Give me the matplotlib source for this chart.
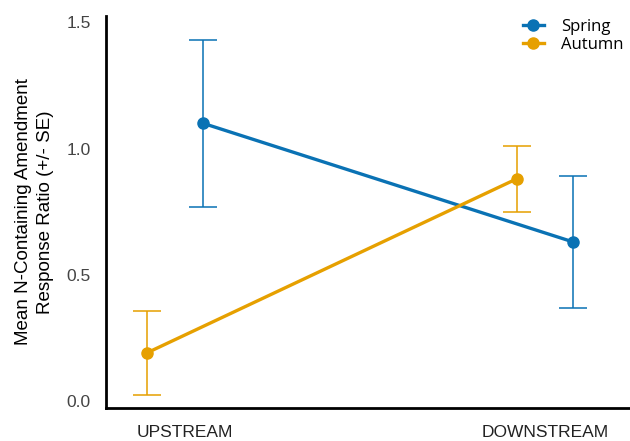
import matplotlib
matplotlib.use("Agg")
from matplotlib import pyplot as plt
from matplotlib import transforms
import numpy as np

# site categories and seasonal means (+/- SE)
sites = ['UPSTREAM', 'DOWNSTREAM']
spring_mean = [1.10, 0.63]
spring_se = [0.33, 0.26]
autumn_mean = [0.19, 0.88]
autumn_se = [0.165, 0.13]

blue = '#0a72b4'
orange = '#e6a000'

plt.rcParams['font.family'] = ['Liberation Sans', 'DejaVu Sans']

fig = plt.figure(figsize=(6.3, 4.41), dpi=100)
ax = fig.add_axes([106 / 630, 33 / 441, 524 / 630, 392 / 441])

x = np.arange(len(sites))
dodge = 0.076

for means, ses, color, label, off in [
    (spring_mean, spring_se, blue, 'Spring', dodge),
    (autumn_mean, autumn_se, orange, 'Autumn', -dodge),
]:
    xs = x + off
    ax.errorbar(xs, means, yerr=ses, fmt='none', ecolor=color, elinewidth=1.3,
                capsize=10, capthick=1.3, alpha=0.85, zorder=2)
    ax.plot(xs, means, color=color, lw=2.4, marker='o', ms=8, label=label, zorder=3)

ax.set_xlim(-0.186, 1.230)
ax.set_ylim(-0.028, 1.525)
ax.set_xticks(x)
ax.set_xticklabels(sites)
ax.set_yticks([0.0, 0.5, 1.0, 1.5])
ax.set_yticklabels(['0.0', '0.5', '1.0', '1.5'])
ax.tick_params(axis='both', length=0, labelsize=12.5, colors='#444444')
ax.tick_params(axis='x', pad=12, labelsize=12.5, labelcolor='#222222')
ax.tick_params(axis='y', pad=11)

# nudge the first site label a little to the right
lbl = ax.get_xticklabels()[0]
lbl.set_transform(lbl.get_transform() + transforms.ScaledTranslation(10 / 100, 0, fig.dpi_scale_trans))

for side in ['top', 'right']:
    ax.spines[side].set_visible(False)
for side in ['left', 'bottom']:
    ax.spines[side].set_linewidth(2)
    ax.spines[side].set_color('black')

ax.set_ylabel('Mean N-Containing Amendment\nResponse Ratio (+/- SE)', fontsize=13.5,
              color='black', labelpad=9, linespacing=1.35)

ax.legend(loc='upper right', bbox_to_anchor=(1.0, 1.01), frameon=False,
          prop={'family': 'Open Sans', 'size': 12}, handlelength=1.3,
          handletextpad=1.0, labelspacing=0.15, borderaxespad=0.0)

fig.savefig('out.png', dpi=100)
